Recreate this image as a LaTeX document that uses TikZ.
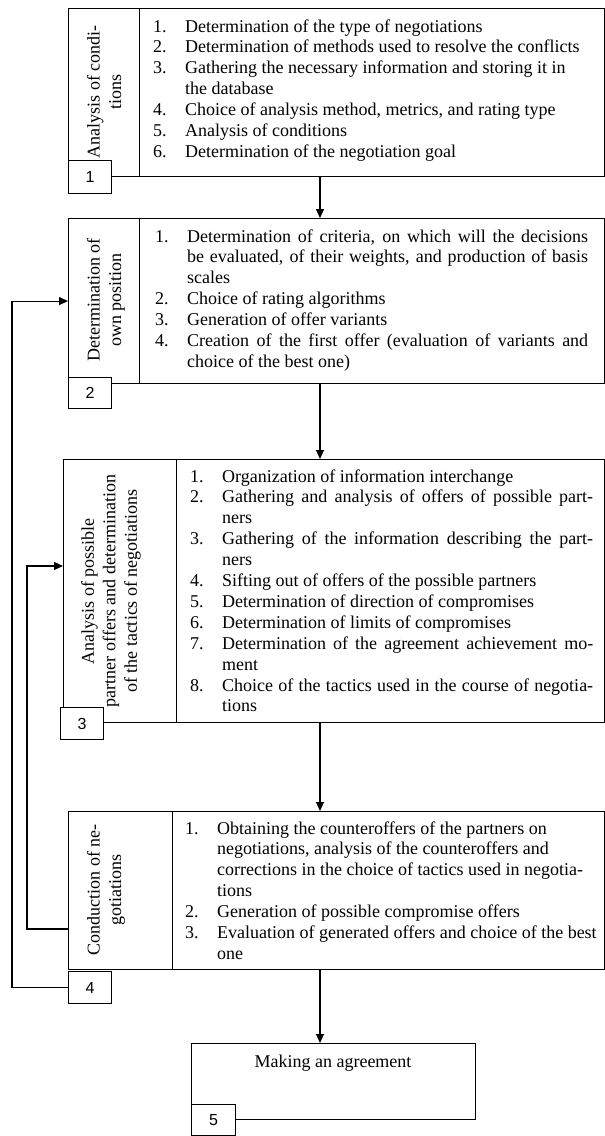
\documentclass[tikz,border=0pt]{standalone}
\usepackage{fontspec}
\setmainfont{Liberation Serif}
\newfontfamily\numfont{Liberation Sans}
\usetikzlibrary{arrows.meta}
\newcommand{\nm}[1]{\makebox[32pt][l]{#1}}
\newcommand{\cn}{\hspace*{32pt}}
\begin{document}
\begin{tikzpicture}[x=1pt,y=-1pt,
  box/.style={draw, line width=1.1pt, inner sep=0pt, anchor=north west},
  nbox/.style={draw, fill=white, line width=1.1pt, inner sep=0pt, anchor=north west, font=\numfont\fontsize{16}{18}\selectfont},
  lab/.style={rotate=90, align=center, inner sep=0pt, font=\fontsize{18}{21.5}\selectfont},
  lst/.style={inner sep=0pt, anchor=base west, font=\fontsize{18}{20.9}\selectfont},
  arr/.style={line width=1.1pt, -{Triangle[length=9pt,width=8pt]}},
  ln/.style={line width=1.1pt}]
\useasboundingbox (0,0) rectangle (605,1136);
\coordinate (ax) at (320,0);
\coordinate (fx) at (12,0);
\coordinate (gx) at (27,0);
\coordinate (gy1) at (0,929);
\coordinate (gy2) at (0,566);

% Box 1
\node[box, minimum width=535.5pt, minimum height=168pt] (b1) at (68,8) {};
\node[box, minimum width=71pt, minimum height=168pt] (b1c) at (68,8) {};
\node[lab] (b1l) at (104,92) {Analysis of condi-\\tions};
\node[lst] (b1t) at (153,32) {\begin{tabular}[t]{@{}l@{}}
\nm{1.}Determination of the type of negotiations\\
\nm{2.}Determination of methods used to resolve the conflicts\\
\nm{3.}Gathering the necessary information and storing it in\\
\cn the database\\
\nm{4.}Choice of analysis method, metrics, and rating type\\
\nm{5.}Analysis of conditions\\
\nm{6.}Determination of the negotiation goal
\end{tabular}};
\node[nbox, minimum width=43pt, minimum height=33pt] (n1) at (68,160) {1};

% Box 2
\node[box, minimum width=535.5pt, minimum height=165pt] (b2) at (68,218) {};
\node[box, minimum width=71pt, minimum height=165pt] (b2c) at (68,218) {};
\node[lab] (b2l) at (106,300) {Determination of\\own position};
\node[lst] (b2t) at (155,242) {\begin{tabular}[t]{@{}l@{}}
\nm{1.}\makebox[401pt][s]{Determination of criteria, on which will the decisions}\\
\cn\makebox[401pt][s]{be evaluated, of their weights, and production of basis}\\
\cn scales\\
\nm{2.}Choice of rating algorithms\\
\nm{3.}Generation of offer variants\\
\nm{4.}\makebox[401pt][s]{Creation of the first offer (evaluation of variants and}\\
\cn choice of the best one)
\end{tabular}};
\node[nbox, minimum width=43pt, minimum height=31pt] (n2) at (68,377) {2};

% Box 3
\node[box, minimum width=540.5pt, minimum height=263pt] (b3) at (63,459) {};
\node[box, minimum width=113pt, minimum height=263pt] (b3c) at (63,459) {};
\node[lab] (b3l) at (111,591) {Analysis of possible\\partner offers and determination\\of the tactics of negotiations};
\node[lst] (b3t) at (190,482) {\begin{tabular}[t]{@{}l@{}}
\nm{1.}Organization of information interchange\\
\nm{2.}\makebox[371pt][s]{Gathering and analysis of offers of possible part-}\\
\cn ners\\
\nm{3.}\makebox[371pt][s]{Gathering of the information describing the part-}\\
\cn ners\\
\nm{4.}Sifting out of offers of the possible partners\\
\nm{5.}Determination of direction of compromises\\
\nm{6.}Determination of limits of compromises\\
\nm{7.}\makebox[371pt][s]{Determination of the agreement achievement mo-}\\
\cn ment\\
\nm{8.}\makebox[371pt][s]{Choice of the tactics used in the course of negotia-}\\
\cn tions
\end{tabular}};
\node[nbox, minimum width=43pt, minimum height=32pt] (n3) at (60,707) {3};

% Box 4
\node[box, minimum width=535.5pt, minimum height=158pt] (b4) at (68,811) {};
\node[box, minimum width=104pt, minimum height=158pt] (b4c) at (68,811) {};
\node[lab] (b4l) at (106,890) {Conduction of ne-\\gotiations};
\node[lst] (b4t) at (185,834) {\begin{tabular}[t]{@{}l@{}}
\nm{1.}Obtaining the counteroffers of the partners on\\
\cn negotiations, analysis of the counteroffers and\\
\cn corrections in the choice of tactics used in negotia-\\
\cn tions\\
\nm{2.}Generation of possible compromise offers\\
\nm{3.}Evaluation of generated offers and choice of the best\\
\cn one
\end{tabular}};
\node[nbox, minimum width=43pt, minimum height=32pt] (n4) at (68,971) {4};

% Box 5
\node[box, minimum width=284pt, minimum height=76pt] (b5) at (191,1043) {};
\node[inner sep=0pt, anchor=base, font=\fontsize{18}{21}\selectfont] (b5t) at (333,1067) {Making an agreement};
\node[nbox, minimum width=44pt, minimum height=31pt] (n5) at (191,1104) {5};

% Connectors
\draw[arr] (b1.south -| ax) -- (b2.north -| ax);
\draw[arr] (b2.south -| ax) -- (b3.north -| ax);
\draw[arr] (b3.south -| ax) -- (b4.north -| ax);
\draw[arr] (b4.south -| ax) -- (b5.north -| ax);
\draw[arr] (n4.west) -- (n4.west -| fx) |- (b2.west);
\draw[arr] (b4.west |- gy1) -- (gx |- gy1) |- (b3.west |- gy2);
\end{tikzpicture}
\end{document}
